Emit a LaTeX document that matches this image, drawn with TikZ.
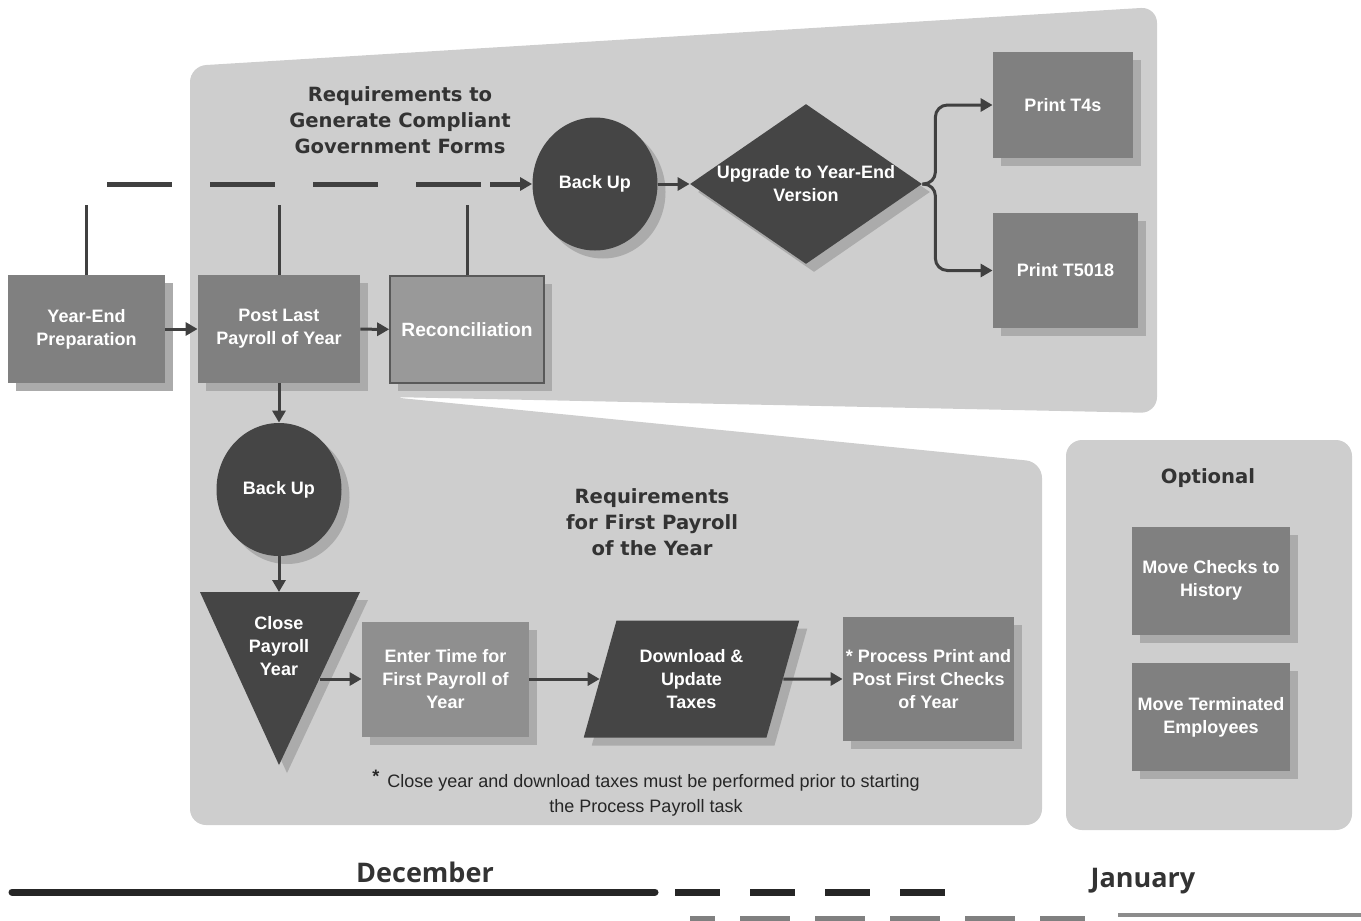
\documentclass[tikz,border=0pt]{standalone}
\usepackage{fontspec}
\setmainfont{Liberation Sans}
\newfontfamily\headfont{DejaVu Sans}
\newfontfamily\monthfont{Open Sans}
\usepackage{xcolor}
\usetikzlibrary{arrows.meta,shapes.geometric,shadows,positioning}
\definecolor{panel-gray}{HTML}{CECECE}
\definecolor{box-gray}{HTML}{808080}
\definecolor{light-box}{HTML}{999999}
\definecolor{dark-gray}{HTML}{454545}
\definecolor{line-dark}{HTML}{404040}
\definecolor{title-gray}{HTML}{333333}
\tikzset{
    box-shadow/.style = {drop shadow={shadow xshift=4pt, shadow yshift=-4pt, fill=black!33, opacity=1}},
    box-text/.style = {text=white, font=\bfseries\fontsize{9}{11.5}\selectfont, align=center},
    task-box/.style = {rectangle, fill=box-gray, box-text, inner sep=1pt, box-shadow},
    dark-shape/.style = {fill=dark-gray, box-text, inner sep=0pt, box-shadow},
    panel-title/.style = {text=title-gray, font=\headfont\bfseries\fontsize{9.8}{13}\selectfont, align=center},
    month-label/.style = {text=title-gray, font=\monthfont\bfseries\fontsize{13.5}{16}\selectfont},
    flow-arrow/.style = {draw=line-dark, line width=1.5pt, -{Triangle[length=6pt, width=6.5pt]}},
    link-line/.style = {draw=line-dark, line width=1.5pt},
}

\begin{document}
\begin{tikzpicture}[x=0.5pt, y=-0.5pt]
\useasboundingbox (0,0) rectangle (1361,921);

% background panels
\fill[panel-gray, rounded corners=8pt] (190,825) -- (190,66) -- (1157,7) -- (1157,413) -- (390,397) -- (1042,462) -- (1042,825) -- cycle;
\fill[panel-gray, rounded corners=8pt] (1066,440) rectangle (1352,830);

\node[panel-title] (req-forms) at (400,120) {Requirements to\\Generate Compliant\\Government Forms};
\node[panel-title] (req-first) at (652,522) {Requirements\\for First Payroll\\of the Year};
\node[panel-title] (optional) at (1208,478) {Optional};

% december tasks
\node[task-box, minimum width=78.5pt, minimum height=54pt] (yep) at (86.5,329) {Year-End\\Preparation};
\node[task-box, minimum width=81pt, minimum height=54pt] (plast) at (279,329) {Post Last\\Payroll of Year};
\node[task-box, fill=light-box, draw=black!65, line width=0.8pt, font=\bfseries\fontsize{9.6}{11.5}\selectfont, minimum width=77pt, minimum height=53.5pt] (recon) at (467,329.5) {Reconciliation};

\coordinate (d-top) at (0,205);
\coordinate (d-start) at (107,184);
\coordinate (d-end) at (481,184);
\coordinate (d-tip) at (490,184);
\draw[line-dark, line width=2.5pt, dash pattern=on 32.5pt off 19pt] (d-start) -- (d-end);
\draw[link-line] (yep.north) -- (yep.north |- d-top);
\draw[link-line] (plast.north) -- (plast.north |- d-top);
\draw[link-line] (recon.north) -- (recon.north |- d-top);

\node[dark-shape, ellipse, minimum width=62.5pt, minimum height=66.5pt] (bk1) at (595,184) {Back Up};
\node[dark-shape, diamond, shape aspect=1.45, inner sep=-3pt, minimum width=116pt, minimum height=80pt] (upg) at (806,184) {Upgrade to Year-End\\Version};
\node[task-box, minimum width=70pt, minimum height=53pt] (t4) at (1063,105) {Print T4s};
\node[task-box, minimum width=72.5pt, minimum height=57.5pt] (t5018) at (1065.5,270.5) {Print T5018};

\draw[flow-arrow, line width=2.5pt] (d-tip) -- (bk1);
\draw[flow-arrow] (yep) -- (plast);
\draw[flow-arrow] (plast) -- (recon);
\draw[flow-arrow] (bk1) -- (upg);
\draw[flow-arrow, rounded corners=6pt] (upg.east) -- ++(13,0) |- (t4);
\draw[flow-arrow, rounded corners=6pt] (upg.east) -- ++(13,0) |- (t5018);

% first payroll
\node[dark-shape, ellipse, minimum width=62.5pt, minimum height=66.5pt] (bk2) at (279,489.5) {Back Up};
\path[fill=dark-gray, box-shadow] (200,592) -- (360,592) -- (279,765) -- cycle;
\node[box-text] (close) at (279,646) {Close\\Payroll\\Year};
\coordinate (close-top) at (279,592);
\coordinate (close-right) at (320,679);

\node[task-box, fill=box-gray!88!white, minimum width=83.5pt, minimum height=57.5pt] (enter) at (445.5,679) {Enter Time for\\First Payroll of\\Year};
\node[dark-shape, trapezium, trapezium left angle=69, trapezium right angle=111, trapezium stretches=true, minimum width=108.5pt, minimum height=58.5pt] (dl) at (691.5,679) {Download \&\\Update\\Taxes};
\node[task-box, minimum width=85.5pt, minimum height=62pt] (proc) at (928.5,679) {* Process Print and\\Post First Checks\\of Year};

\draw[flow-arrow] (plast) -- (bk2);
\draw[flow-arrow] (bk2) -- (close-top);
\draw[flow-arrow] (close-right) -- (enter);
\draw[flow-arrow] (enter) -- (dl);
\draw[flow-arrow] (dl) -- (proc);

\node[text=black!85, font=\fontsize{9}{12.5}\selectfont, align=center] (note) at (646,793.5)
    {\raisebox{2.5pt}{\bfseries *}\, Close year and download taxes must be performed prior to starting\\the Process Payroll task};

% optional tasks
\node[task-box, minimum width=79pt, minimum height=54pt] (mch) at (1211,580.5) {Move Checks to\\History};
\node[task-box, minimum width=79pt, minimum height=54pt] (mte) at (1211,717) {Move Terminated\\Employees};

% months
\node[month-label] (dec) at (425,872) {December};
\node[month-label] (jan) at (1143,881) {January};
\begin{scope}
\clip (0,0) rectangle (1361,921);
\draw[black!85, line width=3.5pt, line cap=round] (12,892) -- (655,892);
\draw[black!85, line width=3.5pt, dash pattern=on 22.5pt off 15pt] (675,892) -- (945,892);
\draw[black!50, line width=2.5pt, dash pattern=on 25pt off 12.5pt, dash phase=12.5pt] (690,918) -- (1085,918);
\draw[black!45, line width=2pt] (1118,915) -- (1361,915);
\end{scope}
\end{tikzpicture}
\end{document}
